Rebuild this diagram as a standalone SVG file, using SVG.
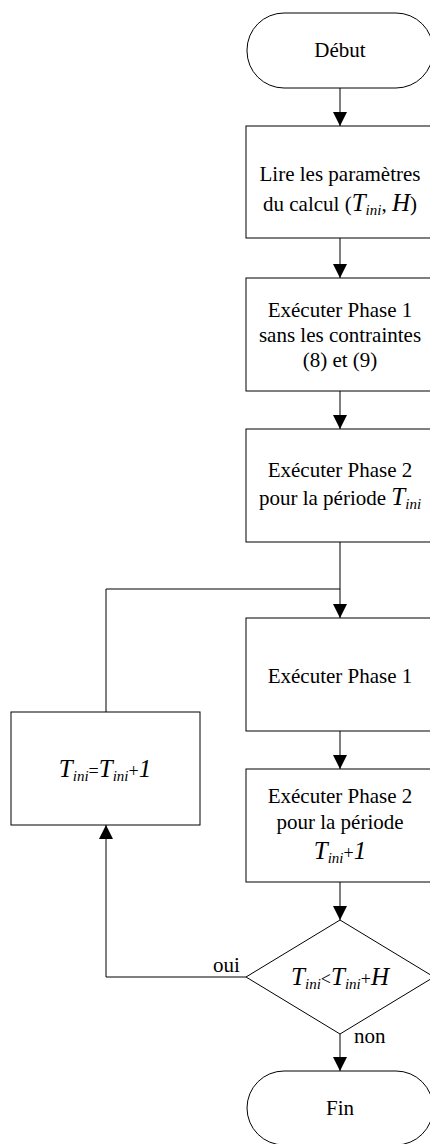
<svg xmlns="http://www.w3.org/2000/svg" width="430" height="1144" viewBox="0 0 430 1144">
  <style>
    .shape { fill: #ffffff; stroke: #000000; stroke-width: 1; }
    .wire { fill: none; stroke: #000000; stroke-width: 1; }
    text { font-family: 'Liberation Serif', 'Times New Roman', 'DejaVu Serif', serif; font-size: 21px; fill: #000000; text-anchor: middle; }
    .it { font-style: italic; font-size: 25px; }
    .sub { font-style: italic; font-size: 15px; }
    .op { font-size: 18px; }
    .lbl { text-anchor: start; }
  </style>
  <defs>
    <marker id="arrow" viewBox="0 0 14 14" markerWidth="14" markerHeight="14" refX="14" refY="7" orient="auto" markerUnits="userSpaceOnUse">
      <path d="M0,0 L14,7 L0,14 z" fill="#000000"/>
    </marker>
  </defs>

  <!-- connectors -->
  <g id="connectors">
    <line class="wire" x1="340" y1="88" x2="340" y2="126" marker-end="url(#arrow)"/>
    <line class="wire" x1="340" y1="238" x2="340" y2="278" marker-end="url(#arrow)"/>
    <line class="wire" x1="340" y1="391" x2="340" y2="429" marker-end="url(#arrow)"/>
    <line class="wire" x1="340" y1="542" x2="340" y2="589"/>
    <line class="wire" x1="340" y1="589" x2="340" y2="618" marker-end="url(#arrow)"/>
    <line class="wire" x1="340" y1="731" x2="340" y2="769" marker-end="url(#arrow)"/>
    <line class="wire" x1="340" y1="882" x2="340" y2="920" marker-end="url(#arrow)"/>
    <line class="wire" x1="340" y1="1034" x2="340" y2="1071" marker-end="url(#arrow)"/>
    <!-- loop back: condition true -> increment -> re-enter before Phase 1 -->
    <polyline class="wire" points="246,977 106,977 106,825" marker-end="url(#arrow)"/>
    <polyline class="wire" points="106,712 106,589 340,589"/>
    <text class="lbl" x="213" y="972">oui</text>
    <text class="lbl" x="354" y="1043">non</text>
  </g>

  <g id="debut">
    <rect class="shape" x="247" y="13" width="186" height="75" rx="37" ry="37"/>
    <text x="340" y="57">Début</text>
  </g>

  <g id="lire">
    <rect class="shape" x="246" y="126" width="188" height="112"/>
    <text x="340" y="181">Lire les paramètres</text>
    <text x="340" y="211">du calcul (<tspan class="it">T</tspan><tspan class="sub" dy="4">ini</tspan><tspan dy="-4">, </tspan><tspan class="it" font-size="23">H</tspan>)</text>
  </g>

  <g id="phase1-init">
    <rect class="shape" x="246" y="278" width="188" height="113"/>
    <text x="340" y="317">Exécuter Phase 1</text>
    <text x="340" y="342">sans les contraintes</text>
    <text x="340" y="367">(8) et (9)</text>
  </g>

  <g id="phase2-init">
    <rect class="shape" x="246" y="429" width="188" height="113"/>
    <text x="340" y="477">Exécuter Phase 2</text>
    <text x="340" y="505">pour la période <tspan class="it">T</tspan><tspan class="sub" dy="4">ini</tspan></text>
  </g>

  <g id="phase1">
    <rect class="shape" x="246" y="618" width="188" height="113"/>
    <text x="340" y="683">Exécuter Phase 1</text>
  </g>

  <g id="phase2">
    <rect class="shape" x="246" y="769" width="188" height="113"/>
    <text x="340" y="803">Exécuter Phase 2</text>
    <text x="340" y="829">pour la période</text>
    <text x="340" y="859"><tspan class="it">T</tspan><tspan class="sub" dy="4">ini</tspan><tspan class="op" dy="-4">+</tspan><tspan class="it" font-size="23">1</tspan></text>
  </g>

  <g id="increment">
    <rect class="shape" x="11" y="712" width="189" height="113"/>
    <text x="105" y="777"><tspan class="it">T</tspan><tspan class="sub" dy="4">ini</tspan><tspan class="op" dy="-4">=</tspan><tspan class="it">T</tspan><tspan class="sub" dy="4">ini</tspan><tspan class="op" dy="-4">+</tspan><tspan class="it" font-size="23">1</tspan></text>
  </g>

  <g id="test">
    <polygon class="shape" points="340,920 434,977 340,1034 246,977"/>
    <text x="340" y="985"><tspan class="it">T</tspan><tspan class="sub" dy="4">ini</tspan><tspan class="op" dy="-4">&lt;</tspan><tspan class="it">T</tspan><tspan class="sub" dy="4">ini</tspan><tspan class="op" dy="-4">+</tspan><tspan class="it">H</tspan></text>
  </g>

  <g id="fin">
    <rect class="shape" x="247" y="1071" width="186" height="74" rx="37" ry="37"/>
    <text x="340" y="1115">Fin</text>
  </g>
</svg>
